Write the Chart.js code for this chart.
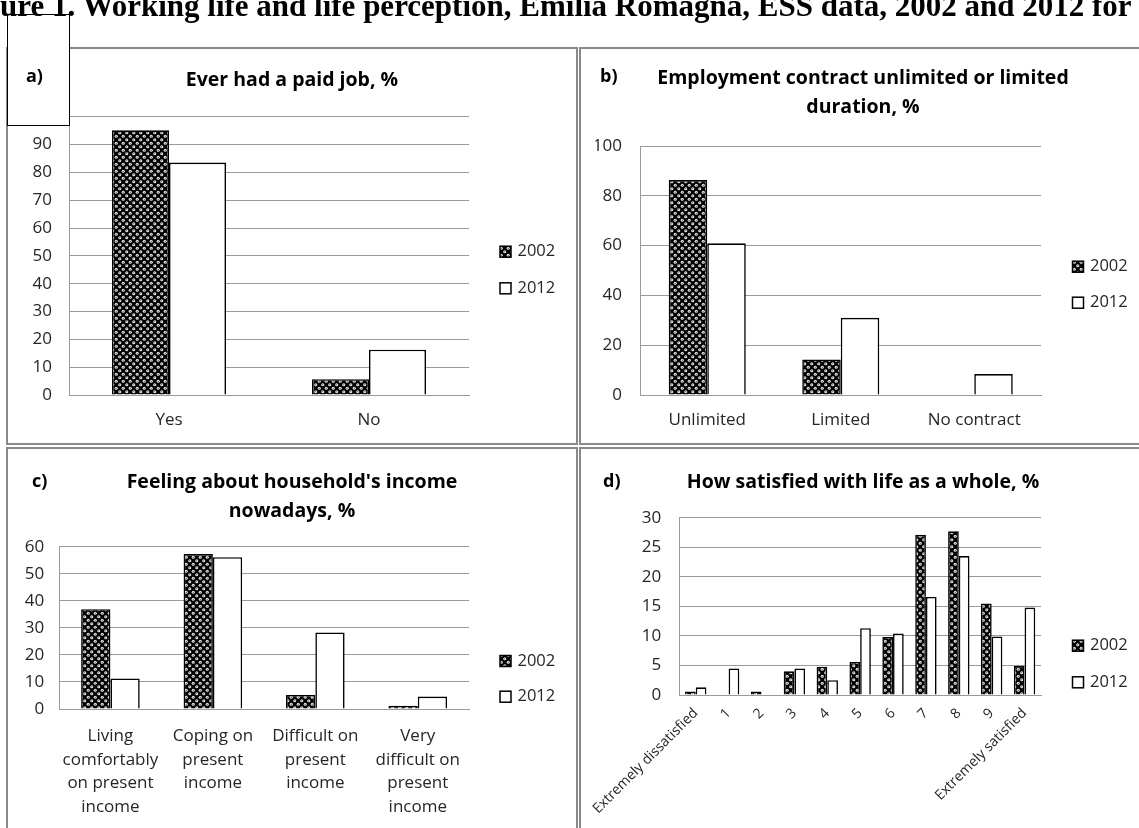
<!DOCTYPE html>
<html><head><meta charset="utf-8">
<script src="https://cdn.jsdelivr.net/npm/chart.js@4.4.1/dist/chart.umd.min.js"></script>
<style>
body{margin:0;width:1139px;height:828px;overflow:hidden;background:#fff;position:relative;font-family:'Open Sans',sans-serif}
#figtitle{position:absolute;left:0;top:-12px;white-space:nowrap;font:bold 31px 'Liberation Serif',serif;line-height:36px;color:#000;z-index:5}
.panel{position:absolute;box-sizing:border-box;border:2px solid #8a8a8a;background:#fff}
canvas{position:absolute;z-index:2}
.ttl{position:absolute;text-align:center;font-weight:bold;font-size:19.5px;line-height:29px;color:#000;z-index:3}
.tag{position:absolute;font-weight:bold;font-size:18px;line-height:24px;color:#000;z-index:4}
#boxa{position:absolute;left:7px;top:14px;width:63px;height:112px;box-sizing:border-box;border:1px solid #000;background:#fff;z-index:3}
</style></head><body>
<div id="figtitle">Figure 1. Working life and life perception, Emilia Romagna, ESS data, 2002 and 2012 for</div>

<div class="panel" style="left:6px;top:47px;width:572px;height:398px"></div>
<div class="panel" style="left:579px;top:47px;width:562px;height:398px"></div>
<div class="panel" style="left:6px;top:447px;width:572px;height:383px"></div>
<div class="panel" style="left:579px;top:447px;width:562px;height:383px"></div>

<canvas id="ca" width="572" height="398" style="left:6px;top:47px"></canvas>
<canvas id="cb" width="562" height="398" style="left:579px;top:47px"></canvas>
<canvas id="cc" width="572" height="383" style="left:6px;top:447px"></canvas>
<canvas id="cd" width="562" height="383" style="left:579px;top:447px"></canvas>

<div id="boxa"></div>
<div class="tag" style="left:26px;top:63px">a)</div>
<div class="tag" style="left:600px;top:63px">b)</div>
<div class="tag" style="left:32px;top:468px">c)</div>
<div class="tag" style="left:603px;top:468px">d)</div>

<div class="ttl" style="left:6px;width:572px;top:63.5px">Ever had a paid job, %</div>
<div class="ttl" style="left:582px;width:562px;top:62px">Employment contract unlimited or limited<br>duration, %</div>
<div class="ttl" style="left:6px;width:572px;top:465.5px">Feeling about household's income<br>nowadays, %</div>
<div class="ttl" style="left:582px;width:562px;top:465.5px">How satisfied with life as a whole, %</div>

<script>
// series names
const years = ['2002', '2012'];

// a) ever had a paid job
const jobCats = ['Yes', 'No'];
const job2002 = [95.1, 5.7];
const job2012 = [83.5, 16.3];
const jobAxis = [0, 100, 10];

// b) contract duration
const contractCats = ['Unlimited', 'Limited', 'No contract'];
const contract2002 = [86.3, 14.3, 0];
const contract2012 = [60.9, 31.0, 8.4];
const contractAxis = [0, 100, 20];

// c) household income
const incomeCats = [['Living', 'comfortably', 'on present', 'income'], ['Coping on', 'present', 'income'], ['Difficult on', 'present', 'income'], ['Very', 'difficult on', 'present', 'income']];
const income2002 = [36.9, 57.3, 5.2, 1.2];
const income2012 = [11.3, 56.1, 28.3, 4.6];
const incomeAxis = [0, 60, 10];

// d) life satisfaction
const lifeCats = ['Extremely dissatisfied', '1', '2', '3', '4', '5', '6', '7', '8', '9', 'Extremely satisfied'];
const life2002 = [0.6, 0, 0.6, 4.0, 4.8, 5.6, 9.8, 27.1, 27.7, 15.5, 4.9];
const life2012 = [1.3, 4.5, 0, 4.5, 2.5, 11.3, 10.4, 16.6, 23.5, 9.9, 14.8];
const lifeAxis = [0, 30, 5];

// push "Fig" off the left edge like the cropped original
(function(){
  const t = document.getElementById('figtitle');
  const g = document.createElement('canvas').getContext('2d');
  g.font = "bold 31px 'Liberation Serif'";
  t.style.left = (-g.measureText('Fig').width) + 'px';
})();

function dots(){
  const c = document.createElement('canvas'); c.width = 7; c.height = 7;
  const g = c.getContext('2d');
  g.fillStyle = '#000'; g.fillRect(0, 0, 7, 7);
  [[1.75, 1.75], [5.25, 5.25]].forEach(([x, y]) => {
    g.fillStyle = '#e8e8e8'; g.beginPath(); g.arc(x, y, 1.55, 0, Math.PI * 2); g.fill();
    g.fillStyle = '#333'; g.beginPath(); g.arc(x, y, 0.55, 0, Math.PI * 2); g.fill();
  });
  return g.createPattern(c, 'repeat');
}
const pat = dots();
const INK = '#262626', GRID = '#9a9a9a';

const sideLegend = {
  id: 'sideLegend',
  afterDraw(chart, args, o){
    const ctx = chart.ctx; ctx.save();
    chart.data.datasets.forEach((ds, i) => {
      const y = o.y[i];
      ctx.fillStyle = ds.backgroundColor; ctx.fillRect(o.x, y - 5.5, 11, 11);
      ctx.strokeStyle = '#000'; ctx.lineWidth = 1.5; ctx.strokeRect(o.x, y - 5.5, 11, 11);
      ctx.fillStyle = INK; ctx.font = "16.5px 'Open Sans'"; ctx.textBaseline = 'middle'; ctx.textAlign = 'left';
      ctx.fillText(ds.label, o.x + 17.5, y);
    });
    ctx.restore();
  }
};

function panel(id, cats, s1, s2, axis, p){
  return new Chart(document.getElementById(id), {
    type: 'bar',
    data: { labels: cats, datasets: [
      { label: years[0], data: s1, backgroundColor: pat, borderColor: '#000', borderWidth: 1.6, categoryPercentage: p.cat, barPercentage: 1 },
      { label: years[1], data: s2, backgroundColor: '#fff', borderColor: '#000', borderWidth: 1.6, categoryPercentage: p.cat, barPercentage: 1 }
    ]},
    plugins: [sideLegend],
    options: {
      responsive: false, animation: false, devicePixelRatio: 1,
      layout: { padding: p.pad },
      plugins: { legend: { display: false }, tooltip: { enabled: false }, sideLegend: p.leg },
      scales: {
        x: {
          grid: { display: false, drawTicks: false },
          border: { color: GRID, width: 1 },
          ticks: { color: INK, padding: p.xPad, autoSkip: false, maxRotation: p.rot, minRotation: p.rot,
                   font: { family: 'Open Sans', size: p.xSize, lineHeight: p.xLh } },
          afterFit: s => { s.height = p.xH; }
        },
        y: {
          min: axis[0], max: axis[1],
          grid: { color: GRID, lineWidth: 1, drawTicks: false },
          border: { color: GRID, width: 1 },
          ticks: { stepSize: axis[2], color: INK, padding: p.yPad, font: { family: 'Open Sans', size: 17 } },
          afterFit: s => { s.width = 45; }
        }
      }
    }
  });
}

panel('ca', jobCats, job2002, job2012, jobAxis, {
  cat: 0.57, pad: { left: 18, top: 69.7, right: 109, bottom: 10 }, xH: 40, xPad: 14.8, yPad: 17,
  rot: 0, xSize: 17, xLh: 1.2, leg: { x: 494, y: [204.7, 241.3] }
});
panel('cb', contractCats, contract2002, contract2012, contractAxis, {
  cat: 0.577, pad: { left: 16.5, top: 99, right: 100, bottom: 10 }, xH: 40, xPad: 14.8, yPad: 18.5,
  rot: 0, xSize: 17, xLh: 1.2, leg: { x: 493.5, y: [219.7, 255.7] }
});
panel('cc', incomeCats, income2002, income2012, incomeAxis, {
  cat: 0.572, pad: { left: 8.2, top: 99.7, right: 109, bottom: 11 }, xH: 110, xPad: 15.2, yPad: 15,
  rot: 0, xSize: 17, xLh: 1.394, leg: { x: 494, y: [214, 249.7] }
});
panel('cd', lifeCats, life2002, life2012, lifeAxis, {
  cat: 0.65, pad: { left: 55.3, top: 70.7, right: 100, bottom: 15 }, xH: 120, xPad: 10, yPad: 18,
  rot: 45, xSize: 14, xLh: 1.2, leg: { x: 493.5, y: [198.7, 235.3] }
});
</script>
</body></html>
